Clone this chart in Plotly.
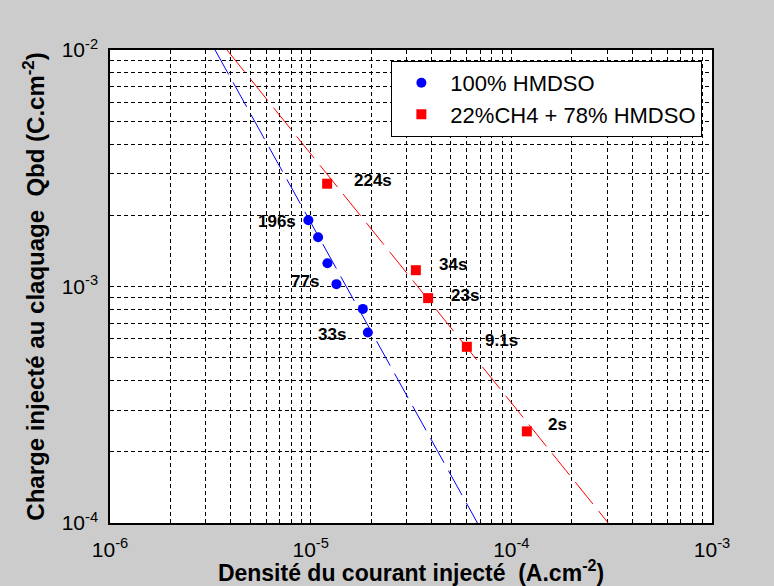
import math
import plotly.graph_objects as go

# ---- data ----
blue_name = "100% HMDSO"
blue_x = [9.74e-6, 1.089e-5, 1.212e-5, 1.344e-5, 1.82e-5, 1.927e-5]
blue_y = [1.907e-3, 1.616e-3, 1.255e-3, 1.023e-3, 8.04e-4, 6.39e-4]
blue_labels = ["196s", "", "", "77s", "", "33s"]

red_name = "22%CH4 + 78% HMDSO"
red_x = [1.208e-5, 3.343e-5, 3.85e-5, 6.003e-5, 1.195e-4]
red_y = [2.72e-3, 1.172e-3, 8.93e-4, 5.56e-4, 2.44e-4]
red_labels = ["224s", "34s", "23s", "9.1s", "2s"]

# fitted power-law lines (end points)
blue_fit_x = [3.34e-6, 6.78e-5]
blue_fit_y = [1e-2, 1e-4]
red_fit_x = [3.83e-6, 3.04e-4]
red_fit_y = [1e-2, 1e-4]

x_decades = [-6, -5, -4, -3]
y_decades = [-4, -3, -2]

# ---- label offsets (pixels) relative to their point ----
blue_label_style = [("right", -10, -1), None, None, ("right", -15, 3), None, ("right", -20, -2)]
red_label_style = [("left", 25, 3), ("left", 21, 6), ("left", 21, 3), ("left", 16, 6), ("left", 19, 7)]


def log_ticks(decades):
    vals, text = [], []
    for i, e in enumerate(decades):
        ks = range(1, 10) if i < len(decades) - 1 else [1]
        for k in ks:
            vals.append(k * 10.0 ** e)
            text.append(f"10<sup>{e}</sup>" if k == 1 else "")
    return vals, text


xv, xt = log_ticks(x_decades)
yv, yt = log_ticks(y_decades)

FONT = "Liberation Sans, Arial, sans-serif"

fig = go.Figure()
fig.add_trace(go.Scatter(x=blue_fit_x, y=blue_fit_y, mode="lines", showlegend=False,
                         line=dict(color="#0000ff", width=1, dash="28px,9px"), hoverinfo="skip"))
fig.add_trace(go.Scatter(x=red_fit_x, y=red_fit_y, mode="lines", showlegend=False,
                         line=dict(color="#ff0000", width=1, dash="28px,9px"), hoverinfo="skip"))
fig.add_trace(go.Scatter(x=blue_x, y=blue_y, mode="markers", name=blue_name,
                         marker=dict(symbol="circle", size=10, color="#0000ff")))
fig.add_trace(go.Scatter(x=red_x, y=red_y, mode="markers", name=red_name,
                         marker=dict(symbol="square", size=10, color="#ff0000")))

annots = []
for xs, ys, labels, styles in [(blue_x, blue_y, blue_labels, blue_label_style),
                               (red_x, red_y, red_labels, red_label_style)]:
    for x, y, lab, st in zip(xs, ys, labels, styles):
        if not lab:
            continue
        anchor, dx, dy = st
        annots.append(dict(x=math.log10(x), y=math.log10(y),
                           xref="x", yref="y", text=lab, showarrow=False,
                           xanchor=anchor, yanchor="middle", xshift=dx, yshift=dy,
                           font=dict(family=FONT, size=17, color="black", weight="bold")))

axis_common = dict(
    type="log", showline=True, linecolor="black", linewidth=1.5, mirror=True,
    showgrid=True, gridcolor="black", gridwidth=1, griddash="4px,3px",
    ticks="", zeroline=False, automargin=False,
    tickfont=dict(family=FONT, size=21, color="black"),
)

fig.update_layout(
    width=774, height=586,
    margin=dict(l=110, r=62, t=50, b=63),
    paper_bgcolor="#cccccc", plot_bgcolor="white",
    showlegend=True,
    legend=dict(x=0.984, y=0.977, xanchor="right", yanchor="top",
                bgcolor="white", bordercolor="black", borderwidth=1,
                font=dict(family=FONT, size=22, color="black"), itemwidth=48,
                tracegroupgap=0),
    annotations=annots,
    xaxis=dict(axis_common, range=[-6, -3], tickvals=xv, ticktext=xt,
               ticklabelstandoff=7,
               title=dict(text="Densité du courant injecté \u00a0(A.cm<sup>-2</sup>)",
                          font=dict(family=FONT, size=23, color="black", weight="bold"),
                          standoff=7)),
    yaxis=dict(axis_common, range=[-4, -2], tickvals=yv, ticktext=yt,
               ticklabelstandoff=6,
               title=dict(text="Charge injecté au claquage \u00a0Qbd (C.cm<sup>-2</sup>)",
                          font=dict(family=FONT, size=24, color="black", weight="bold"),
                          standoff=10)),
)

fig.write_html("out.html")
